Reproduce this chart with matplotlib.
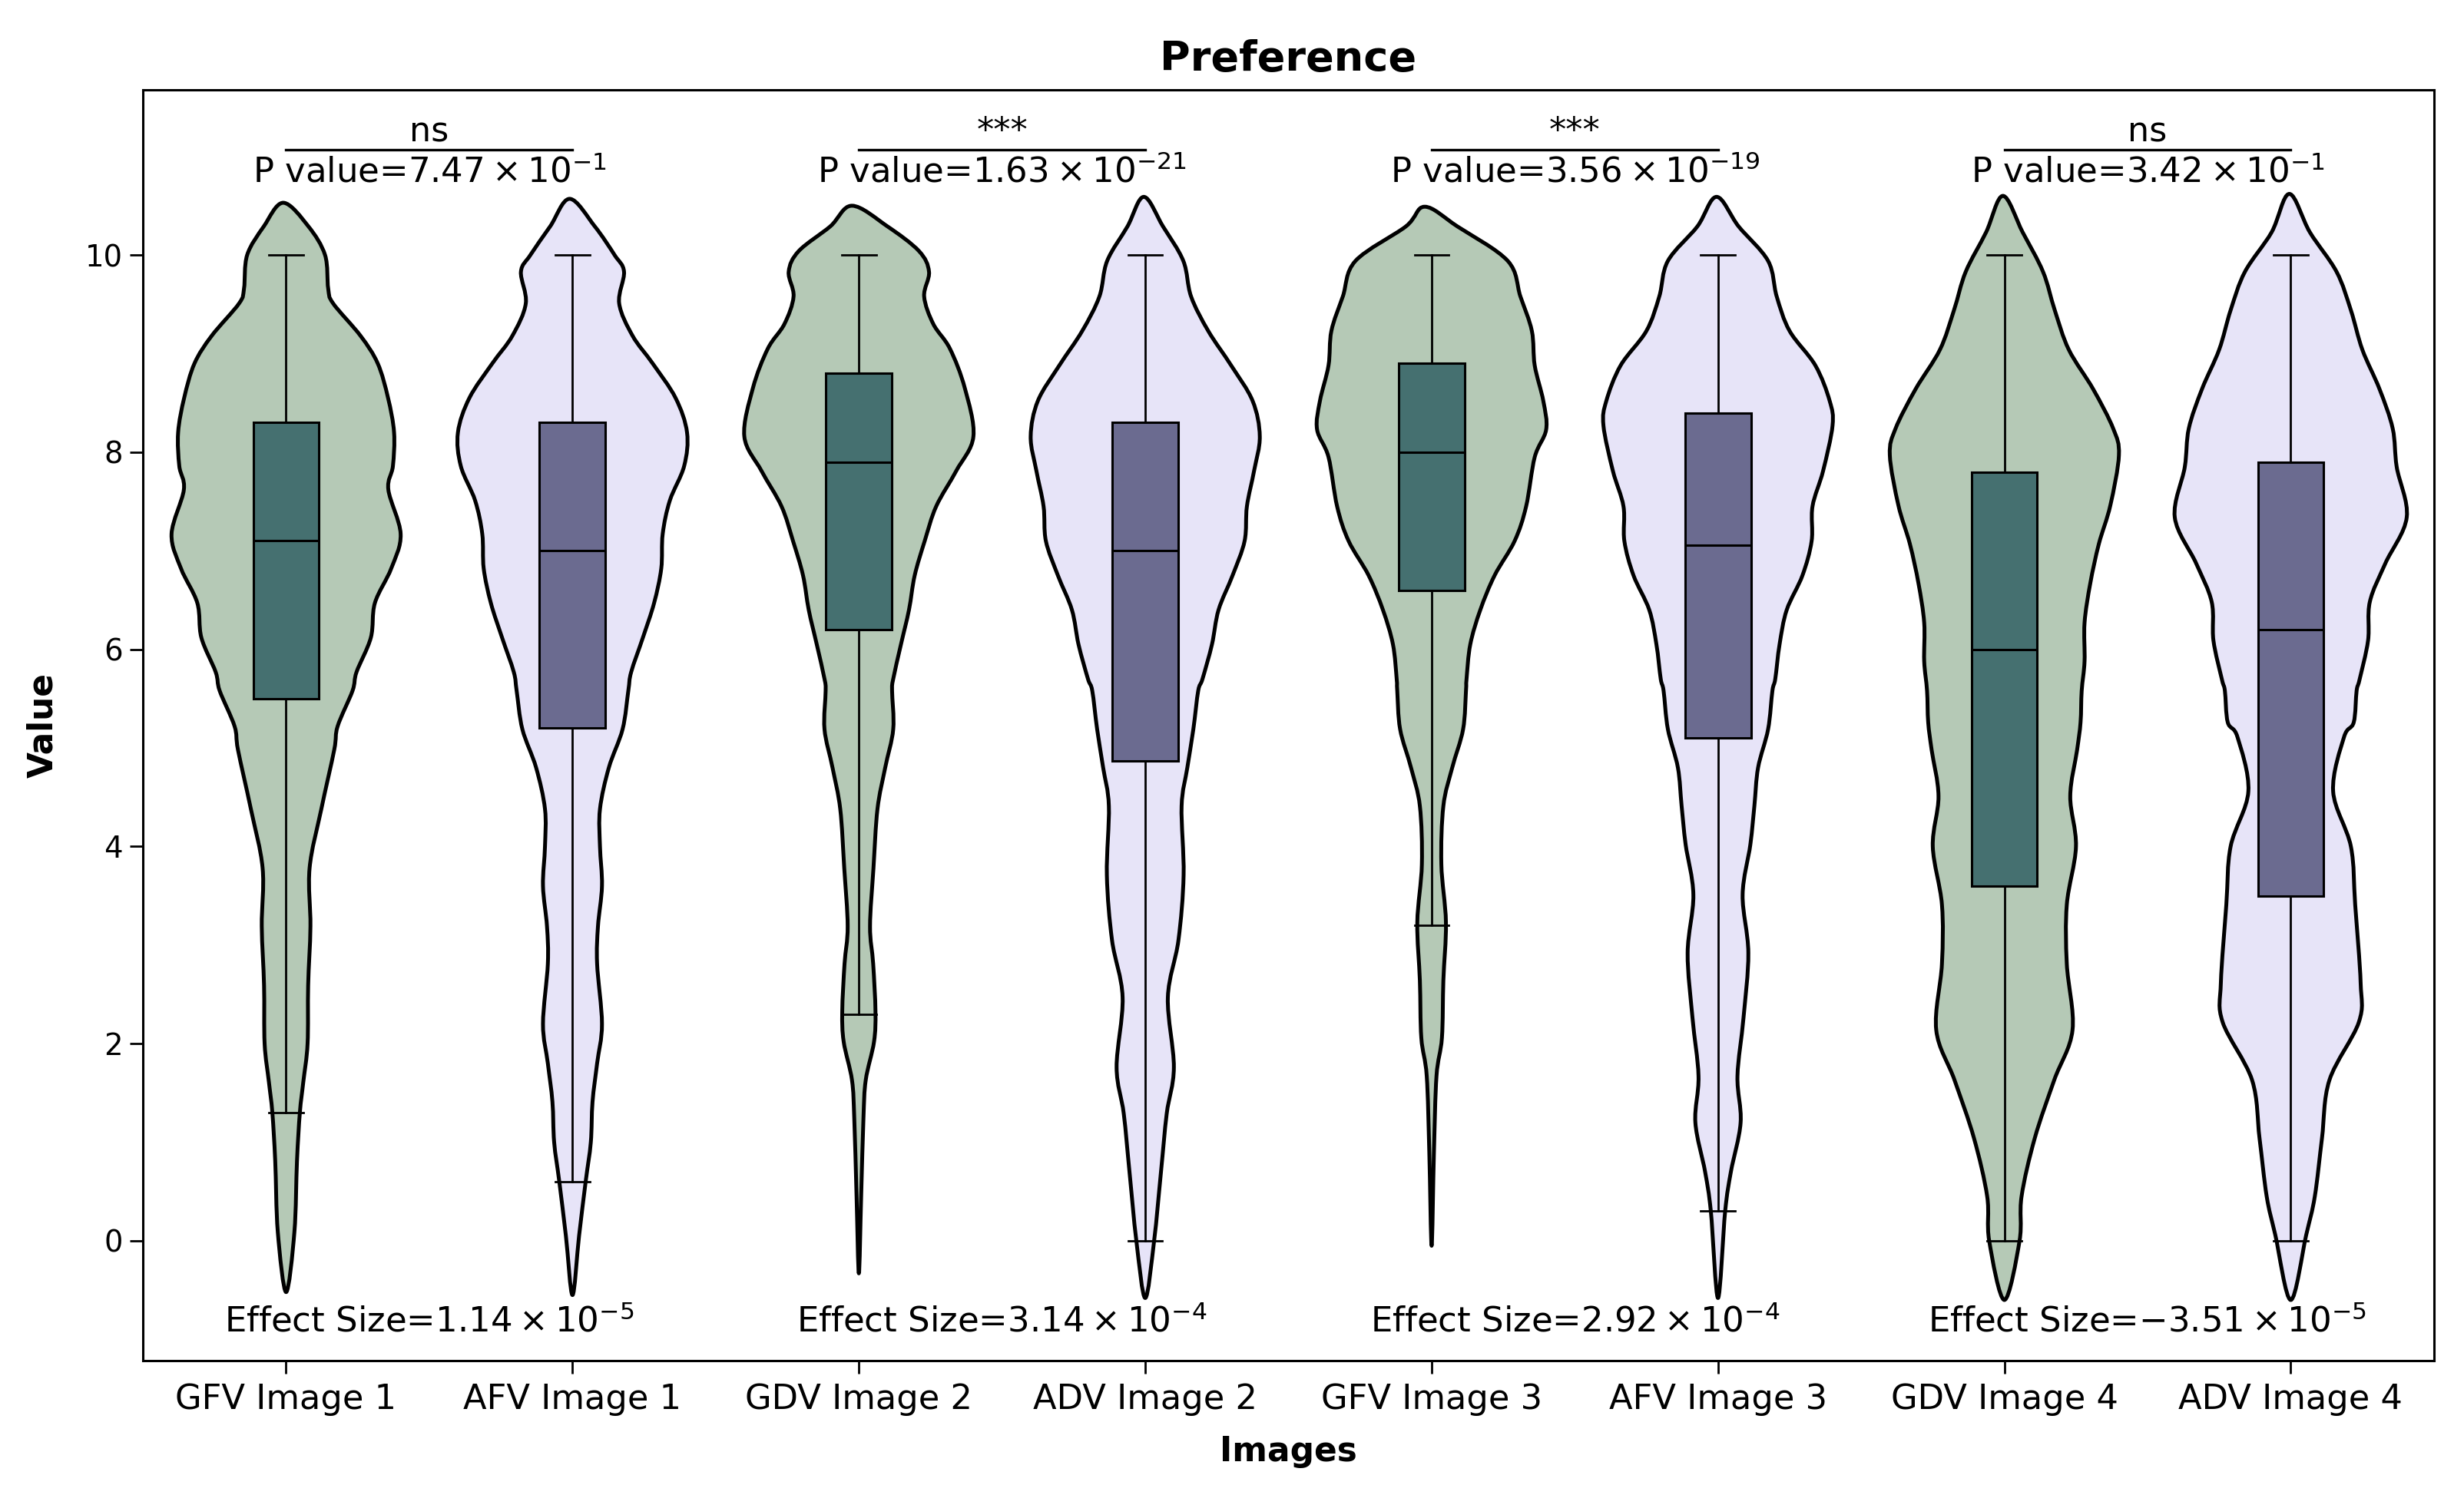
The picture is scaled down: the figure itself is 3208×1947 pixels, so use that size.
import numpy as np
import matplotlib
matplotlib.use("Agg")
import matplotlib.pyplot as plt
from matplotlib.path import Path
from matplotlib.patches import PathPatch

# ---------------- data ----------------
categories = ["GFV Image 1", "AFV Image 1", "GDV Image 2", "ADV Image 2",
              "GFV Image 3", "AFV Image 3", "GDV Image 4", "ADV Image 4"]

# violin outlines: value levels and half-widths (density profile as drawn)
v1_y = [-0.52, 0.09, 0.81, 1.30, 1.61, 2.00, 2.59, 3.19, 3.78, 4.38, 4.98, 5.22, 5.58, 5.77, 6.12, 6.47,
        6.82, 7.17, 7.62, 7.86, 8.20, 8.55, 8.90, 9.18, 9.51, 9.66, 10.0, 10.29, 10.53]
v1_w = [0, .029, .038, .048, .06, .075, .077, .085, .082, .123, .168, .18, .232, .246, .296, .31,
        .367, .40, .357, .373, .377, .356, .32, .26, .164, .147, .136, .078, .01]

v2_y = [-0.55, 0.05, 0.6, 1.0, 1.41, 1.8, 2.2, 2.81, 3.19, 3.6, 4.0, 4.38, 4.80, 5.19, 5.58, 5.77,
        6.12, 6.47, 6.82, 7.17, 7.51, 7.86, 8.20, 8.55, 8.90, 9.18, 9.51, 9.83, 10.0, 10.29, 10.57]
v2_w = [0, .023, .046, .064, .07, .086, .103, .086, .089, .103, .096, .096, .127, .175, .195, .205,
        .246, .285, .31, .315, .34, .39, .40, .36, .28, .21, .163, .18, .147, .078, .01]

v3_y = [-0.33, 0.45, 1.24, 1.63, 2.02, 2.33, 2.81, 3.19, 3.78, 4.38, 4.80, 5.19, 5.58, 5.70, 6.05,
        6.40, 6.75, 7.10, 7.45, 7.81, 8.16, 8.65, 9.05, 9.30, 9.58, 9.83, 10.04, 10.29, 10.50]
v3_w = [0, .008, .016, .024, .053, .058, .05, .039, .051, .065, .092, .12, .116, .12, .147,
        .175, .195, .23, .27, .34, .40, .37, .318, .26, .228, .245, .21, .1, .024]

v4_y = [-0.58, 0.0, 0.70, 1.29, 1.76, 2.47, 3.05, 3.71, 4.41, 4.80, 5.19, 5.58, 5.70, 6.05, 6.40,
        6.75, 7.10, 7.45, 7.81, 8.16, 8.52, 8.88, 9.23, 9.58, 9.94, 10.29, 10.59]
v4_w = [0, .031, .055, .075, .1, .079, .116, .134, .127, .147, .168, .185, .2, .233, .256,
        .305, .347, .355, .38, .40, .375, .30, .22, .16, .133, .062, .005]

v5_y = [-0.05, 0.89, 1.67, 2.06, 2.64, 3.23, 3.82, 4.41, 4.80, 5.19, 5.58, 5.70, 6.05, 6.40, 6.75,
        7.10, 7.45, 7.95, 8.23, 8.52, 8.88, 9.23, 9.58, 9.94, 10.29, 10.49]
v5_w = [0, .008, .017, .036, .041, .05, .034, .041, .072, .11, .12, .122, .135, .17, .22,
        .29, .33, .36, .40, .39, .36, .35, .31, .266, .09, .024]

v6_y = [-0.58, 0.3, 0.70, 1.20, 1.67, 2.26, 2.92, 3.51, 4.02, 4.41, 4.80, 5.19, 5.58, 5.70, 6.05,
        6.40, 6.75, 7.10, 7.45, 7.81, 8.27, 8.52, 8.88, 9.23, 9.58, 9.94, 10.29, 10.59]
v6_w = [0, .025, .045, .079, .068, .089, .106, .086, .113, .127, .14, .175, .19, .2, .215,
        .24, .295, .327, .33, .367, .40, .39, .34, .25, .205, .175, .072, .005]

v7_y = [-0.6, 0.0, 0.45, 1.04, 1.63, 2.14, 2.81, 3.41, 4.0, 4.51, 4.98, 5.26, 5.58, 5.88, 6.27,
        6.67, 7.07, 7.46, 7.97, 8.24, 8.64, 9.04, 9.44, 9.83, 10.23, 10.60]
v7_w = [0, .053, .06, .106, .174, .238, .218, .218, .25, .23, .254, .266, .27, .28, .28,
        .30, .33, .37, .40, .38, .31, .225, .176, .135, .064, .005]

v8_y = [-0.6, 0.06, 0.45, 1.04, 1.63, 2.22, 2.62, 3.41, 4.0, 4.56, 5.11, 5.26, 5.58, 5.69, 6.09,
        6.48, 6.87, 7.34, 7.85, 8.24, 8.64, 9.04, 9.44, 9.83, 10.23, 10.62]
v8_w = [0, .054, .084, .109, .135, .238, .244, .225, .21, .148, .186, .22, .23, .24, .27,
        .276, .33, .405, .37, .356, .31, .25, .21, .16, .067, .005]

# box-plot statistics
q1 = [5.5, 5.2, 6.2, 4.87, 6.6, 5.1, 3.6, 3.5]
medians = [7.1, 7.0, 7.9, 7.0, 8.0, 7.06, 6.0, 6.2]
q3 = [8.3, 8.3, 8.8, 8.3, 8.9, 8.4, 7.8, 7.9]
whisk_lo = [1.3, 0.6, 2.3, 0.0, 3.2, 0.3, 0.0, 0.0]
whisk_hi = [10, 10, 10, 10, 10, 10, 10, 10]

# pairwise test annotations
stars = ["ns", "***", "***", "ns"]
p_mant = ["7.47", "1.63", "3.56", "3.42"]
p_exp = ["-1", "-21", "-19", "-1"]
eff_mant = ["1.14", "3.14", "2.92", "-3.51"]
eff_exp = ["-5", "-4", "-4", "-5"]

# ---------------- style ----------------
violin_colors = ["#b5c9b6", "#e7e4f8"]
box_colors = ["#457070", "#6b6b90"]


def smooth_outline_path(px, py):
    """Closed cubic-Bezier path through the outline points (Catmull-Rom tangents)."""
    P = np.column_stack([px, py])
    n = len(P)
    verts = [P[0]]
    codes = [Path.MOVETO]
    for k in range(n):
        p0 = P[(k - 1) % n]
        p1 = P[k]
        p2 = P[(k + 1) % n]
        p3 = P[(k + 2) % n]
        c1 = p1 + (p2 - p0) / 6.0
        c2 = p2 - (p3 - p1) / 6.0
        verts += [c1, c2, p2]
        codes += [Path.CURVE4] * 3
    verts.append(P[0])
    codes.append(Path.CLOSEPOLY)
    return Path(np.array(verts), codes)


fig = plt.figure(figsize=(16.04, 9.735), dpi=200)
ax = fig.add_axes([0.058, 0.0901, 0.9298, 0.8499])

profiles = [(v1_y, v1_w), (v2_y, v2_w), (v3_y, v3_w), (v4_y, v4_w),
            (v5_y, v5_w), (v6_y, v6_w), (v7_y, v7_w), (v8_y, v8_w)]
positions = np.arange(len(categories))

for i, (ys, ws) in enumerate(profiles):
    ys = np.asarray(ys, float)
    ws = np.asarray(ws, float)
    # left side bottom->top, right side top->bottom (drop duplicated tip points)
    xs = np.concatenate([i - ws, (i + ws)[::-1][1:-1]])
    yy = np.concatenate([ys, ys[::-1][1:-1]])
    path = smooth_outline_path(xs, yy)
    ax.add_patch(PathPatch(path, facecolor=violin_colors[i % 2], edgecolor="black",
                           linewidth=1.8, zorder=1, joinstyle="round"))

stats = []
for i in range(len(categories)):
    stats.append(dict(med=medians[i], q1=q1[i], q3=q3[i],
                      whislo=whisk_lo[i], whishi=whisk_hi[i], fliers=[]))
bp = ax.bxp(stats, positions=positions, widths=0.23, capwidths=0.12,
            patch_artist=True, showfliers=False, manage_ticks=False,
            boxprops=dict(linewidth=1.1, edgecolor="black"),
            medianprops=dict(color="black", linewidth=1.1),
            whiskerprops=dict(color="black", linewidth=1.0),
            capprops=dict(color="black", linewidth=1.0))
for i, patch in enumerate(bp["boxes"]):
    patch.set_facecolor(box_colors[i % 2])
    patch.set_zorder(2)
for k in ("medians", "whiskers", "caps"):
    for ln in bp[k]:
        ln.set_zorder(3)

for j in range(4):
    xa, xb = 2 * j, 2 * j + 1
    xm = (xa + xb) / 2
    ax.plot([xa, xb], [11.07, 11.07], color="black", linewidth=1.2, zorder=4)
    ax.text(xm, 11.15, stars[j], ha="center", va="baseline", fontsize=16)
    ax.text(xm, 10.74, r"P value=$%s \times 10^{%s}$" % (p_mant[j], p_exp[j]),
            ha="center", va="baseline", fontsize=16.2)
    ax.text(xm, -0.92, r"Effect Size=$%s \times 10^{%s}$" % (eff_mant[j], eff_exp[j]),
            ha="center", va="baseline", fontsize=16.2)

ax.set_xlim(-0.5, 7.5)
ax.set_ylim(-1.212, 11.677)
ax.set_xticks(positions)
ax.set_xticklabels(categories, fontsize=16.1)
ax.set_yticks([0, 2, 4, 6, 8, 10])
ax.tick_params(axis="y", labelsize=13.9, length=6, width=1.0)
ax.tick_params(axis="x", length=6, width=1.0, pad=4.5)
for s in ax.spines.values():
    s.set_linewidth(1.1)
ax.set_xlabel("Images", fontsize=15.8, fontweight="bold", labelpad=9)
ax.set_ylabel("Value", fontsize=15.8, fontweight="bold", labelpad=12)
ax.set_title("Preference", fontsize=19.5, fontweight="bold", pad=9)

fig.savefig("out.png", dpi=200)
